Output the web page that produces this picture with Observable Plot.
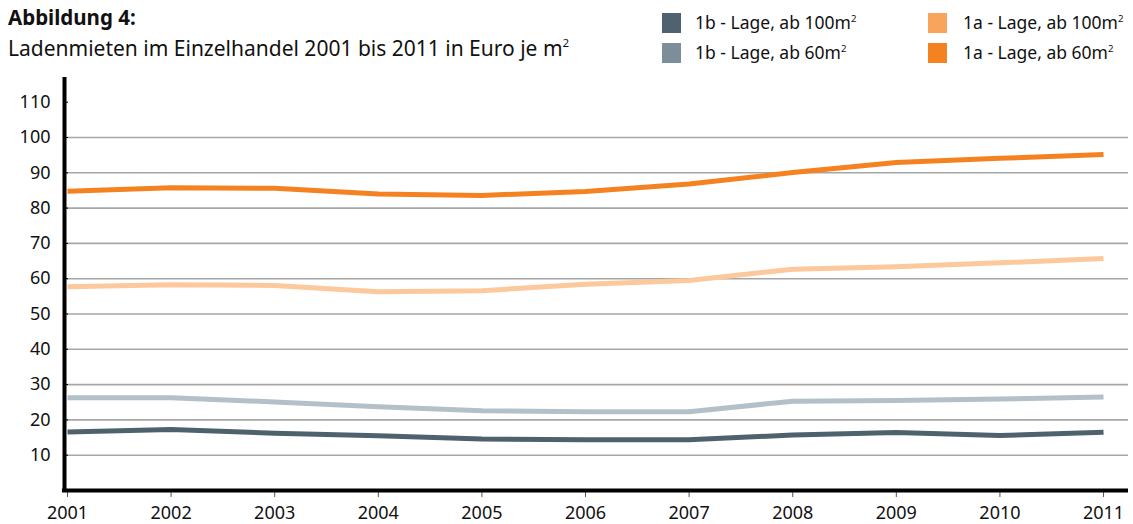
<!DOCTYPE html>
<html>
<head>
<meta charset="utf-8">
<script src="https://cdn.jsdelivr.net/npm/d3@7"></script>
<script src="https://cdn.jsdelivr.net/npm/@observablehq/plot@0.6"></script>
<style>
  body { margin: 0; background: #fff; font-family: "Noto Sans", sans-serif; color: #111; }
  #wrap { position: relative; width: 1133px; height: 524px; overflow: hidden; }
  #title { position: absolute; left: 8px; top: 7px; font-size: 20.5px; line-height: 1; font-weight: bold; }
  #subtitle { position: absolute; left: 8px; top: 38px; font-size: 21px; line-height: 1; }
  #chart { position: absolute; left: 0; top: 70px; }
  .leg { position: absolute; font-size: 17.5px; line-height: 1; display: flex; align-items: center; white-space: nowrap; height: 20px; }
  .leg .sw { width: 19px; height: 20px; margin-right: 14px; }
  sup { font-size: 0.55em; vertical-align: 0.75em; line-height: 0; }
</style>
</head>
<body>
<div id="wrap">
  <div id="title">Abbildung 4:</div>
  <div id="subtitle">Ladenmieten im Einzelhandel 2001 bis 2011 in Euro je m<sup>2</sup></div>
  <div id="legend"></div>
  <div id="chart"></div>
</div>
<script>
const years = [2001, 2002, 2003, 2004, 2005, 2006, 2007, 2008, 2009, 2010, 2011];
const lage1b100 = [16.6, 17.3, 16.2, 15.5, 14.6, 14.4, 14.4, 15.7, 16.4, 15.6, 16.5];
const lage1b60  = [26.3, 26.3, 25.1, 23.7, 22.6, 22.3, 22.3, 25.3, 25.5, 25.9, 26.5];
const lage1a100 = [57.7, 58.3, 58.1, 56.3, 56.6, 58.4, 59.5, 62.7, 63.4, 64.5, 65.7];
const lage1a60  = [84.8, 85.8, 85.6, 84.0, 83.6, 84.7, 86.8, 90.1, 92.9, 94.1, 95.2];

const seriesNames = ["1b - Lage, ab 100m", "1b - Lage, ab 60m", "1a - Lage, ab 100m", "1a - Lage, ab 60m"];
const seriesValues = [lage1b100, lage1b60, lage1a100, lage1a60];
const lineColors = ["#4e626d", "#b3c0c8", "#fdc89b", "#f58220"];
const legendColors = ["#4e636f", "#7b8e99", "#f8a45c", "#f58220"];
const yTickLabels = [10, 20, 30, 40, 50, 60, 70, 80, 90, 100, 110];
const gridValues = [10, 20, 30, 40, 50, 60, 70, 80, 90, 100];

// Legend (HTML, above the SVG)
const legendPos = [[662, 13], [662, 43], [928, 13], [928, 43]];
const legend = document.getElementById("legend");
seriesNames.forEach((name, i) => {
  const d = document.createElement("div");
  d.className = "leg";
  d.style.left = legendPos[i][0] + "px";
  d.style.top = legendPos[i][1] + "px";
  d.innerHTML = `<div class="sw" style="background:${legendColors[i]}"></div><span>${name}<sup>2</sup></span>`;
  if (i >= 2) d.querySelector(".sw").style.marginRight = "16px";
  legend.appendChild(d);
});

const rows = [];
seriesNames.forEach((name, s) => {
  years.forEach((yr, j) => rows.push({series: name, year: yr, value: seriesValues[s][j]}));
});

const xMin = 2000.971, xMax = 2011.241, yMax = 117;

const chart = Plot.plot({
  width: 1133,
  height: 454,
  marginLeft: 64,
  marginRight: 5,
  marginTop: 7,
  marginBottom: 34,
  style: {fontFamily: "Noto Sans, sans-serif", fontSize: "18px", color: "#111", background: "#fff"},
  x: {domain: [xMin, xMax]},
  y: {domain: [0, yMax]},
  color: {domain: seriesNames, range: lineColors},
  marks: [
    Plot.ruleY(gridValues, {x1: xMin + 0.02, x2: xMax, stroke: "#a6a6a6", strokeWidth: 1.6}),
    Plot.axisY({ticks: yTickLabels, tickSize: 4, tickPadding: 14, tickFormat: d => String(d), stroke: "#000", anchor: "left", label: null, dx: 4, textAnchor: "end", fontSize: 18}),
    Plot.axisX({ticks: years, tickSize: 7, tickPadding: 9, tickFormat: d => String(d), stroke: "#555", label: null, fontSize: 18}),
    Plot.line(rows, {x: "year", y: "value", z: "series", stroke: "series", strokeWidth: 5, strokeLinejoin: "round", strokeLinecap: "butt"}),
    Plot.ruleX([xMin], {y1: 0, y2: yMax, stroke: "#000", strokeWidth: 4}),
    Plot.ruleY([0], {x1: xMin - 0.02, x2: xMax, stroke: "#000", strokeWidth: 4})
  ]
});
document.getElementById("chart").appendChild(chart);
</script>
</body>
</html>
